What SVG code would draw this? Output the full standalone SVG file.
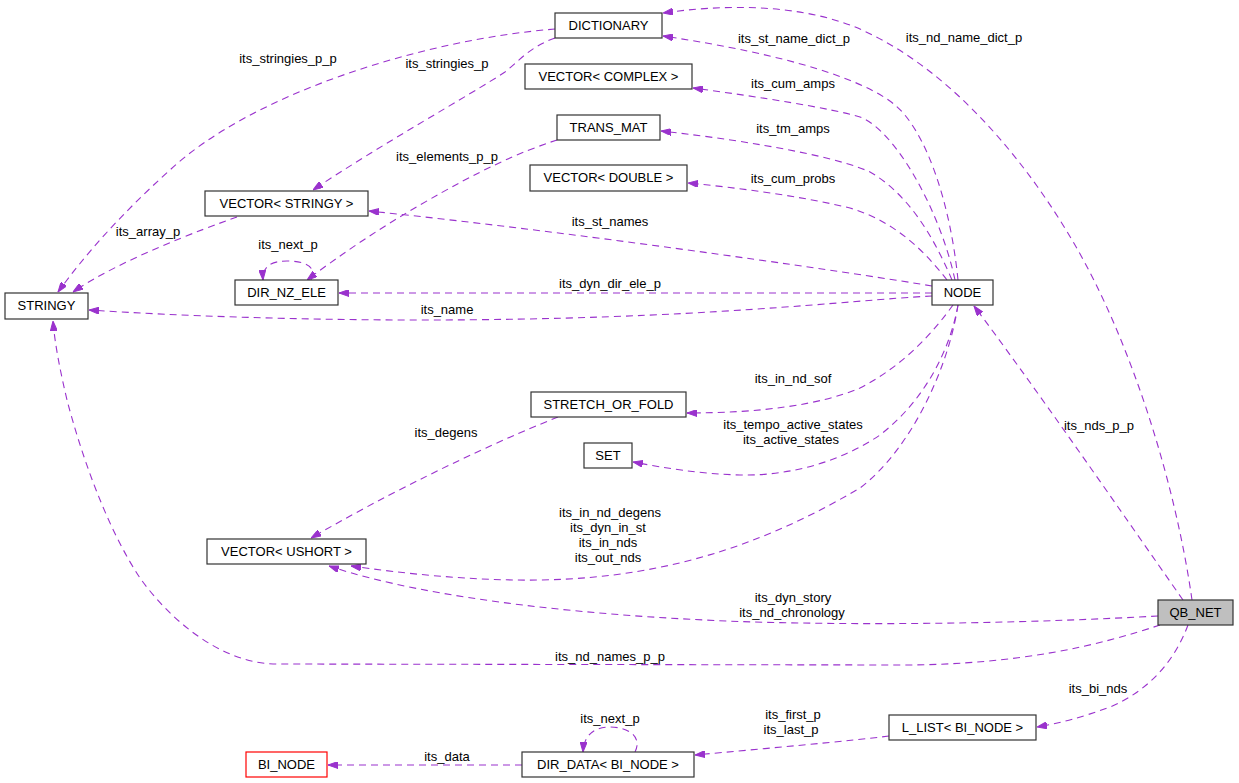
<svg xmlns="http://www.w3.org/2000/svg" width="1239" height="783" viewBox="0 0 1239 783">
<defs>
<marker id="ah" viewBox="0 0 10 7" refX="10" refY="3.5" markerWidth="10" markerHeight="7" markerUnits="userSpaceOnUse" orient="auto"><path d="M0,0 L10,3.5 L0,7 z" fill="#9a32cd" stroke="#9a32cd" stroke-width="1"/></marker>
</defs>
<style>
.node rect{fill:#ffffff;stroke:#333333;stroke-width:1.2}
.node text{font-family:"Liberation Sans",Arial,sans-serif;font-size:13px;fill:#000;text-anchor:middle}
.edges path{fill:none;stroke:#9a32cd;stroke-width:1.1;stroke-dasharray:7,5;marker-end:url(#ah)}
.lbl text{font-family:"Liberation Sans",Arial,sans-serif;font-size:13px;fill:#000;text-anchor:middle}
</style>
<rect x="0" y="0" width="1239" height="783" fill="#ffffff"/>
<g class="edges">
<path d="M555,29 C420,40 250,95 170,170 C120,215 85,255 58,292"/>
<path d="M555,38 C530,47 520,60 505,72 C470,95 380,145 313,190"/>
<path d="M237,217 C200,230 120,260 73,292"/>
<path d="M557,140 C520,152 480,170 420,205 C380,228 340,255 307,280"/>
<path d="M311,280 C318,265 302,261 287,261 C272,261 262,266 263,280"/>
<path d="M958,280 C950,200 925,130 895,105 C865,80 790,55 663,36"/>
<path d="M1192,600 C1175,480 1130,340 1075,245 C1020,150 940,60 850,25 C790,3 720,5 663,13"/>
<path d="M955,280 C940,210 895,130 860,117 C830,108 760,97 693,88"/>
<path d="M952,280 C935,240 910,195 870,172 C840,158 760,142 661,131"/>
<path d="M947,280 C920,245 890,220 850,208 C800,196 740,188 688,183"/>
<path d="M932,286 C880,277 600,235 369,211"/>
<path d="M932,293 L339,293"/>
<path d="M932,296 C850,300 700,320 420,320 C300,320 180,316 89,310"/>
<path d="M953,305 C935,330 905,365 860,388 C820,405 760,413 687,413"/>
<path d="M958,305 C950,350 925,400 880,435 C840,462 790,476 740,475 C700,474 665,468 633,462"/>
<path d="M558,417 C520,432 420,475 311,538"/>
<path d="M958,305 C948,370 910,450 860,488 C780,535 680,578 540,580 C470,581 400,573 351,566"/>
<path d="M1158,616 C1050,622 900,626 753,622 C600,617 430,600 329,566"/>
<path d="M1160,625 C1100,645 1020,665 900,665 L273,664 C220,662 170,620 140,578 C105,525 80,450 67,400 C60,370 55,345 53,321"/>
<path d="M1183,600 C1120,510 1030,380 974,306"/>
<path d="M1188,625 C1175,660 1150,690 1110,707 C1080,718 1060,723 1037,727"/>
<path d="M889,736 C850,741 760,749 695,755"/>
<path d="M635,752 C643,736 627,727 610,727 C594,727 584,735 583,752"/>
<path d="M522,765 L328,765"/>
</g>
<g class="lbl">
<text x="288" y="63">its_stringies_p_p</text>
<text x="447" y="68">its_stringies_p</text>
<text x="447" y="161">its_elements_p_p</text>
<text x="148" y="236">its_array_p</text>
<text x="288" y="249">its_next_p</text>
<text x="794" y="43">its_st_name_dict_p</text>
<text x="964" y="42">its_nd_name_dict_p</text>
<text x="793" y="88">its_cum_amps</text>
<text x="793" y="133">its_tm_amps</text>
<text x="793" y="183">its_cum_probs</text>
<text x="610" y="226">its_st_names</text>
<text x="610" y="288">its_dyn_dir_ele_p</text>
<text x="447" y="314">its_name</text>
<text x="793" y="383">its_in_nd_sof</text>
<text x="793" y="429">its_tempo_active_states</text>
<text x="791" y="444">its_active_states</text>
<text x="446" y="437">its_degens</text>
<text x="610" y="517">its_in_nd_degens</text>
<text x="608" y="532">its_dyn_in_st</text>
<text x="608" y="547">its_in_nds</text>
<text x="608" y="562">its_out_nds</text>
<text x="793" y="602">its_dyn_story</text>
<text x="792" y="617">its_nd_chronology</text>
<text x="610" y="661">its_nd_names_p_p</text>
<text x="1099" y="430">its_nds_p_p</text>
<text x="1098" y="693">its_bi_nds</text>
<text x="793" y="719">its_first_p</text>
<text x="791" y="734">its_last_p</text>
<text x="610" y="723">its_next_p</text>
<text x="447" y="761">its_data</text>
</g>
<g id="node-STRINGY" class="node"><rect x="5" y="293" width="83" height="26"/><text x="46.5" y="310">STRINGY</text></g>
<g id="node-VECTOR_STRINGY" class="node"><rect x="205" y="191" width="163" height="25"/><text x="286.5" y="208">VECTOR&lt; STRINGY &gt;</text></g>
<g id="node-DIR_NZ_ELE" class="node"><rect x="235" y="280" width="103" height="25"/><text x="286.5" y="297">DIR_NZ_ELE</text></g>
<g id="node-DICTIONARY" class="node"><rect x="555" y="13" width="107" height="25"/><text x="608.5" y="30">DICTIONARY</text></g>
<g id="node-VECTOR_COMPLEX" class="node"><rect x="525" y="64" width="167" height="25"/><text x="608.5" y="81">VECTOR&lt; COMPLEX &gt;</text></g>
<g id="node-TRANS_MAT" class="node"><rect x="557" y="115" width="103" height="25"/><text x="608.5" y="132">TRANS_MAT</text></g>
<g id="node-VECTOR_DOUBLE" class="node"><rect x="530" y="165" width="157" height="26"/><text x="608.5" y="182">VECTOR&lt; DOUBLE &gt;</text></g>
<g id="node-NODE" class="node"><rect x="932" y="280" width="61" height="25"/><text x="962.5" y="297">NODE</text></g>
<g id="node-STRETCH_OR_FOLD" class="node"><rect x="531" y="392" width="155" height="25"/><text x="608.5" y="409">STRETCH_OR_FOLD</text></g>
<g id="node-SET" class="node"><rect x="584" y="443" width="48" height="25"/><text x="608" y="460">SET</text></g>
<g id="node-VECTOR_USHORT" class="node"><rect x="207" y="539" width="159" height="25"/><text x="286.5" y="556">VECTOR&lt; USHORT &gt;</text></g>
<g id="node-BI_NODE" class="node"><rect x="246" y="752" width="81" height="25" style="stroke:#ff0000"/><text x="286.5" y="769">BI_NODE</text></g>
<g id="node-DIR_DATA" class="node"><rect x="522" y="752" width="172" height="25"/><text x="608" y="769">DIR_DATA&lt; BI_NODE &gt;</text></g>
<g id="node-L_LIST" class="node"><rect x="889" y="715" width="147" height="25"/><text x="962.5" y="732">L_LIST&lt; BI_NODE &gt;</text></g>
<g id="node-QB_NET" class="node"><rect x="1158" y="600" width="75" height="25" style="fill:#bfbfbf"/><text x="1195.5" y="617">QB_NET</text></g>
</svg>
